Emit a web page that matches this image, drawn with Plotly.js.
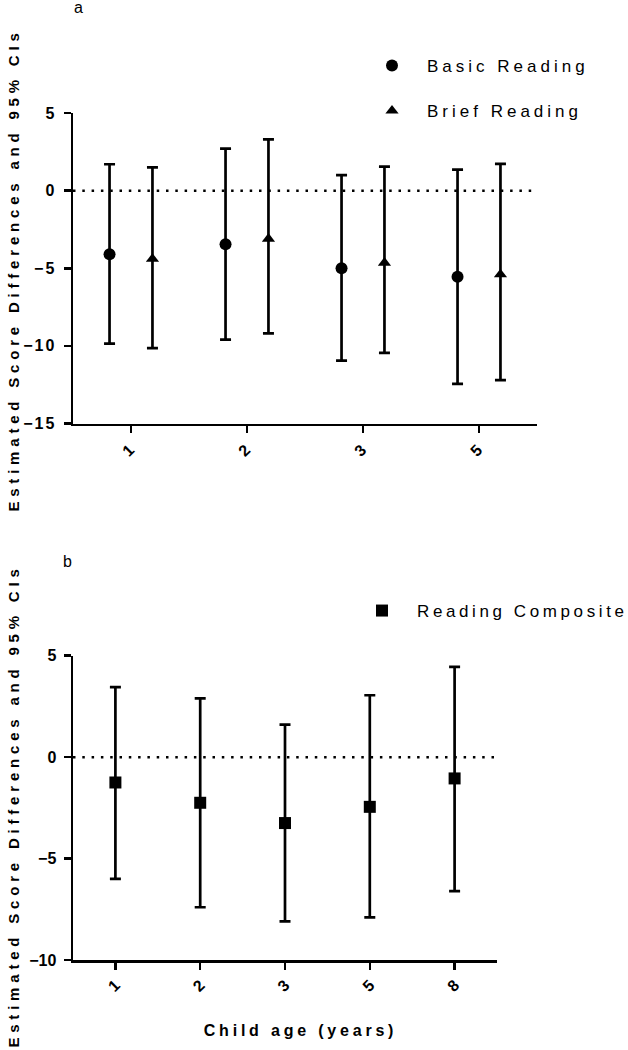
<!DOCTYPE html>
<html>
<head>
<meta charset="utf-8">
<script src="https://cdn.plot.ly/plotly-3.0.1.min.js"></script>
<style>
  html, body { margin: 0; padding: 0; background: #fff; }
  #chart { width: 628px; height: 1050px; }
  text.legendtext { letter-spacing: 4px; }
  text.legend2text { letter-spacing: 3.6px; }
</style>
</head>
<body>
<div id="chart"></div>
<script>
// ---- Data ----
const agesA = ['1', '2', '3', '5'];
const basicEst   = [-4.1, -3.45, -5.0, -5.55];
const basicUpper = [1.7, 2.7, 1.0, 1.35];
const basicLower = [-9.85, -9.6, -10.95, -12.45];
const briefEst   = [-4.4, -3.1, -4.65, -5.4];
const briefUpper = [1.5, 3.3, 1.55, 1.72];
const briefLower = [-10.15, -9.2, -10.45, -12.2];

const agesB = ['1', '2', '3', '5', '8'];
const compEst   = [-1.25, -2.25, -3.25, -2.45, -1.05];
const compUpper = [3.45, 2.9, 1.6, 3.05, 4.45];
const compLower = [-6.0, -7.4, -8.1, -7.9, -6.6];

const yTicksA = [5, 0, -5, -10, -15];
const yTicksB = [5, 0, -5, -10];

const FONT = 'Arial, "Liberation Sans", sans-serif';

function errY(est, up, lo) {
  return {
    type: 'data', symmetric: false,
    array: up.map((u, i) => u - est[i]),
    arrayminus: lo.map((l, i) => est[i] - l),
    color: '#000', thickness: 2.7, width: 5.5
  };
}

const traces = [
  {
    type: 'scatter', mode: 'markers', name: 'Basic Reading',
    x: agesA, y: basicEst, xaxis: 'x', yaxis: 'y',
    offsetgroup: 'basic', legendgroup: 'g1', legend: 'legend',
    marker: { symbol: 'circle', size: 12, color: '#000' },
    error_y: errY(basicEst, basicUpper, basicLower)
  },
  {
    type: 'scatter', mode: 'markers', name: 'Brief Reading',
    x: agesA, y: briefEst, xaxis: 'x', yaxis: 'y',
    offsetgroup: 'brief', legendgroup: 'g2', legend: 'legend',
    marker: { symbol: 'triangle-up', size: 11.5, color: '#000' },
    error_y: errY(briefEst, briefUpper, briefLower)
  },
  {
    type: 'scatter', mode: 'markers', name: 'Reading Composite',
    x: agesB, y: compEst, xaxis: 'x2', yaxis: 'y2',
    legend: 'legend2',
    marker: { symbol: 'square', size: 12, color: '#000' },
    error_y: errY(compEst, compUpper, compLower)
  }
];

const W = 628, H = 1050;
const px = v => v / W;
const py = v => 1 - v / H;

const axisCommon = {
  showline: true, linecolor: '#000', linewidth: 2.5,
  ticks: 'outside', ticklen: 7, tickwidth: 2.5, tickcolor: '#000',
  showgrid: false, zeroline: false, automargin: false,
  tickfont: { family: FONT, size: 16, color: '#000', weight: 'bold' }
};

const layout = {
  width: W, height: H,
  margin: { l: 0, r: 0, t: 0, b: 0, autoexpand: false },
  paper_bgcolor: '#fff', plot_bgcolor: '#fff',
  font: { family: FONT, color: '#000' },
  scattermode: 'group', scattergap: 0.26,
  xaxis: Object.assign({}, axisCommon, {
    domain: [px(73), px(537)], anchor: 'y', type: 'category',
    range: [-0.5, 3.5], tickangle: -45
  }),
  yaxis: Object.assign({}, axisCommon, {
    domain: [py(423.5), py(113)], anchor: 'x',
    range: [-15, 5], tickvals: yTicksA, ticklabelstandoff: 4
  }),
  xaxis2: Object.assign({}, axisCommon, {
    domain: [px(73), px(497)], anchor: 'y2', type: 'category',
    range: [-0.5, 4.5], tickangle: -45
  }),
  yaxis2: Object.assign({}, axisCommon, {
    domain: [py(960), py(655.7)], anchor: 'x2',
    range: [-10, 5], tickvals: yTicksB, ticklabelstandoff: 4
  }),
  shapes: [
    { type: 'line', xref: 'x domain', yref: 'y', x0: 0, x1: 1, y0: 0, y1: 0,
      line: { color: '#000', width: 2.5, dash: '2.5px,6.8px' }, layer: 'below' },
    { type: 'line', xref: 'x2 domain', yref: 'y2', x0: 0, x1: 1, y0: 0, y1: 0,
      line: { color: '#000', width: 2.5, dash: '2.5px,6.8px' }, layer: 'below' }
  ],
  legend: {
    x: px(357), y: py(48), xanchor: 'left', yanchor: 'top',
    bgcolor: 'rgba(0,0,0,0)', borderwidth: 0,
    itemwidth: 60, tracegroupgap: 20, traceorder: 'grouped',
    font: { family: FONT, size: 17, color: '#000' }
  },
  legend2: {
    x: px(347), y: py(593), xanchor: 'left', yanchor: 'top',
    bgcolor: 'rgba(0,0,0,0)', borderwidth: 0,
    itemwidth: 60,
    font: { family: FONT, size: 17, color: '#000' }
  },
  showlegend: true,
  annotations: [
    { text: 'Estimated Score Differences and 95% CIs', xref: 'paper', yref: 'paper',
      x: px(13), y: py(270), xanchor: 'center', yanchor: 'middle', textangle: -90,
      showarrow: false, font: { family: FONT, size: 15, color: '#000', weight: 'bold' } },
    { text: 'Estimated Score Differences and 95% CIs', xref: 'paper', yref: 'paper',
      x: px(13), y: py(806), xanchor: 'center', yanchor: 'middle', textangle: -90,
      showarrow: false, font: { family: FONT, size: 15, color: '#000', weight: 'bold' } },
    { text: 'Child age (years)', xref: 'paper', yref: 'paper',
      x: px(300), y: py(1030), xanchor: 'center', yanchor: 'middle',
      showarrow: false, font: { family: FONT, size: 16, color: '#000', weight: 'bold' } },
    { text: 'a', xref: 'paper', yref: 'paper', x: px(78), y: py(7),
      xanchor: 'center', yanchor: 'middle', showarrow: false,
      font: { family: FONT, size: 16, color: '#000' } },
    { text: 'b', xref: 'paper', yref: 'paper', x: px(67), y: py(561),
      xanchor: 'center', yanchor: 'middle', showarrow: false,
      font: { family: FONT, size: 16, color: '#000' } }
  ]
};

function spaceText(sel, ls) {
  document.querySelectorAll(sel).forEach(el => { el.style.letterSpacing = ls; });
}

Plotly.newPlot('chart', traces, layout, { displayModeBar: false, staticPlot: true })
  .then(() => {
    spaceText('#chart .ytick text, #chart .xtick text', '2px');
    spaceText('#chart .annotation[data-index="0"] text, #chart .annotation[data-index="1"] text', '4.8px');
    spaceText('#chart .annotation[data-index="2"] text', '3.8px');
  });
</script>
</body>
</html>
